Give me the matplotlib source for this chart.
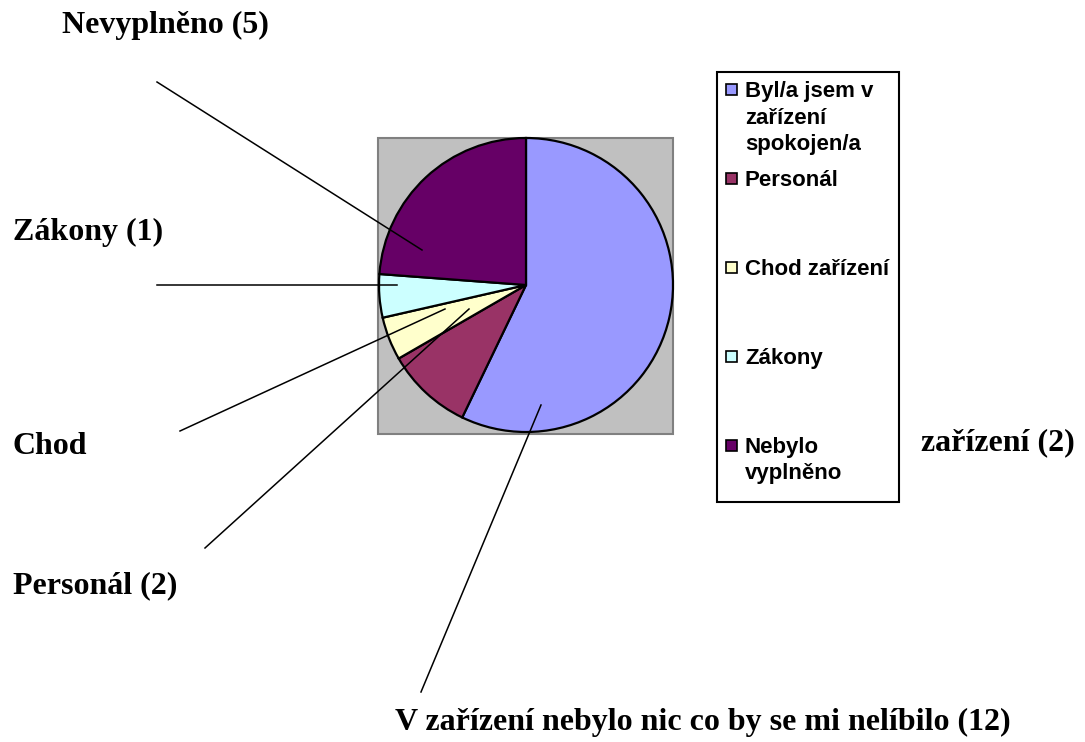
import matplotlib.pyplot as plt
from matplotlib.patches import Rectangle

W, H = 1085, 742

# data (sizes of the slices)
kategorie = ['Byl/a jsem v\nzařízení\nspokojen/a', 'Personál', 'Chod zařízení', 'Zákony', 'Nebylo\nvyplněno']
hodnoty = [12, 2, 1, 1, 5]
barvy = ['#9999FF', '#993366', '#FFFFCC', '#CCFFFF', '#660066']

# outside labels: text, text position (px from top-left), leader line start, leader line end
popisky = [
    ('Nevyplněno (5)', (62, 25), (157, 82), (422, 250)),
    ('Zákony (1)', (13, 232), (157, 285), (397, 285)),
    ('Chod', (13, 446), (180, 431), (445, 309)),
    ('Personál (2)', (13, 586), (205, 548), (469, 309)),
    ('V zařízení nebylo nic co by se mi nelíbilo (12)', (395, 722), (421, 692), (541, 405)),
]


def y(v):
    return H - v


fig = plt.figure(figsize=(W / 100, H / 100), dpi=100)
ax = fig.add_axes([0, 0, 1, 1])

# grey plot area
ax.add_patch(Rectangle((378, y(434)), 295, 296, facecolor='#C0C0C0',
                       edgecolor='#808080', lw=1.5, zorder=1))

ax.pie(hodnoty, colors=barvy, startangle=90, counterclock=False,
       center=(526, y(285)), radius=147, frame=True,
       wedgeprops=dict(edgecolor='black', linewidth=1.6, zorder=2))
ax.set_xlim(0, W)
ax.set_ylim(0, H)
ax.set_aspect('equal')
ax.axis('off')

serif = dict(family='Liberation Serif', weight='bold', fontsize=23)
for text, (tx, ty), (x0, y0), (x1, y1) in popisky:
    ax.text(tx, y(ty), text, ha='left', va='center', **serif)
    ax.plot([x0, x1], [y(y0), y(y1)], color='black', lw=1.1, zorder=3)
ax.text(1075, y(443), 'zařízení (2)', ha='right', va='center', **serif)

# legend
ax.add_patch(Rectangle((717, y(502)), 182, 430, facecolor='white',
                       edgecolor='black', lw=1.5, zorder=1))
for i, (lab, c) in enumerate(zip(kategorie, barvy)):
    cy = 89 + i * 89
    ax.add_patch(Rectangle((726, y(cy + 6)), 11, 11, facecolor=c,
                           edgecolor='black', lw=1.2, zorder=3))
    for j, line in enumerate(lab.split('\n')):
        ax.text(745, y(cy + 8 + j * 26.5), line, ha='left', va='baseline',
                family='Liberation Sans', weight='bold', fontsize=16)

fig.savefig('out.png', dpi=100)
